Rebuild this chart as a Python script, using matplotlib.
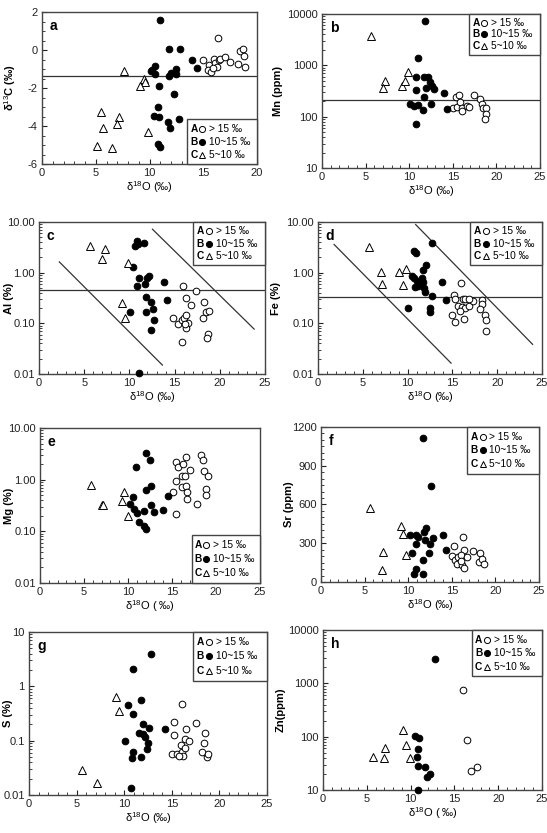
import numpy as np
import matplotlib
matplotlib.use('Agg')
import matplotlib.pyplot as plt
from matplotlib.patches import Rectangle
from matplotlib.ticker import MultipleLocator, FixedLocator, LogLocator, NullFormatter

plt.rcParams['font.family'] = ['Liberation Sans', 'DejaVu Sans']
plt.rcParams['mathtext.fontset'] = 'custom'
plt.rcParams['mathtext.rm'] = 'Liberation Sans'

# ---------------- data ----------------
# panel a : d13C
a_open_x = [16.4, 15.0, 15.5, 15.4, 15.7, 16.0, 16.1, 16.3, 16.5, 16.6, 17.0, 17.5, 18.2, 18.4, 18.7, 18.8, 18.9, 15.9]
a_open_y = [0.63, -0.55, -0.8, -1.05, -1.15, -0.45, -0.7, -0.9, -0.55, -0.45, -0.35, -0.65, -0.75, -0.05, 0.07, -0.3, -0.9, -0.95]
a_fill_x = [11.0, 11.8, 12.8, 13.95, 14.4, 10.1, 10.5, 10.55, 10.2, 11.85, 12.0, 12.45, 12.5, 10.85, 12.25, 10.8, 10.4, 10.85, 11.7, 12.7, 11.9, 10.75, 11.0]
a_fill_y = [1.6, 0.07, 0.05, -0.5, -0.94, -1.12, -0.82, -1.24, -1.03, -1.38, -1.2, -0.98, -1.27, -1.89, -2.34, -2.99, -3.46, -3.52, -3.78, -3.64, -4.1, -4.97, -5.1]
a_tri_x = [7.6, 9.45, 9.6, 9.15, 5.45, 7.15, 7.0, 5.7, 9.85, 5.1, 6.5]
a_tri_y = [-1.12, -1.5, -1.68, -1.9, -3.25, -3.5, -3.9, -4.13, -4.34, -5.04, -5.15]
a_hline = -1.36

# panel b : Mn
b_tri_x = [5.65, 7.25, 7.05, 9.15, 9.55, 9.85]
b_tri_y = [3700, 500, 355, 395, 500, 750]
b_fill_x = [11.85, 11.05, 10.75, 11.7, 12.2, 12.4, 12.6, 12.8, 11.95, 10.75, 14.0, 11.75, 10.05, 10.5, 11.05, 12.5, 11.6, 14.3, 10.75]
b_fill_y = [7400, 1360, 600, 600, 600, 480, 395, 340, 355, 330, 290, 245, 180, 160, 168, 175, 135, 138, 73]
b_open_x = [15.35, 15.7, 15.0, 15.45, 15.8, 16.0, 16.1, 16.6, 16.9, 17.4, 18.1, 18.3, 18.5, 18.8, 18.8, 18.7]
b_open_y = [243, 270, 145, 151, 194, 148, 128, 160, 155, 270, 216, 180, 145, 145, 115, 91]
b_hline = 210

# panel c : Al
c_tri_x = [5.65, 7.25, 7.0, 9.8, 9.15, 9.5]
c_tri_y = [3.36, 2.9, 1.9, 1.56, 0.254, 0.125]
c_fill_x = [10.8, 10.6, 10.9, 11.65, 10.45, 11.1, 11.9, 12.2, 11.7, 10.8, 13.85, 11.8, 12.35, 12.65, 14.2, 10.05, 11.8, 12.7, 12.4, 11.1]
c_fill_y = [4.2, 3.4, 3.7, 3.85, 1.3, 0.77, 0.8, 0.85, 0.61, 0.54, 0.64, 0.33, 0.265, 0.196, 0.295, 0.169, 0.169, 0.116, 0.073, 0.0103]
c_open_x = [15.95, 16.25, 17.4, 16.8, 18.3, 14.85, 15.4, 15.8, 16.05, 16.25, 16.5, 16.3, 16.1, 18.1, 18.5, 18.85, 18.7, 18.6, 15.8]
c_open_y = [0.54, 0.31, 0.44, 0.23, 0.265, 0.125, 0.099, 0.116, 0.125, 0.145, 0.1, 0.082, 0.096, 0.125, 0.169, 0.177, 0.063, 0.052, 0.042]
c_hline = 0.46
c_diag1_x = [2.25, 13.65]
c_diag1_y = [1.63, 0.015]
c_diag2_x = [12.55, 23.8]
c_diag2_y = [7.2, 0.077]

# panel d : Fe
d_tri_x = [5.65, 7.0, 7.15, 9.05, 9.8, 9.45]
d_tri_y = [3.25, 1.05, 0.59, 1.05, 1.17, 0.56]
d_fill_x = [12.75, 10.75, 10.95, 12.05, 11.75, 10.45, 10.7, 11.65, 11.0, 13.8, 11.75, 10.8, 11.2, 11.8, 11.95, 12.7, 14.25, 10.0, 12.45, 12.45]
d_fill_y = [3.77, 2.7, 2.47, 1.42, 1.13, 0.865, 0.78, 0.78, 0.67, 0.65, 0.64, 0.52, 0.55, 0.495, 0.41, 0.34, 0.293, 0.2, 0.2, 0.166]
d_open_x = [15.95, 15.2, 15.3, 16.15, 16.4, 15.65, 16.05, 16.4, 16.8, 17.35, 16.9, 18.35, 18.35, 18.1, 14.95, 16.25, 15.3, 18.65, 18.75, 18.75, 15.85]
d_open_y = [0.62, 0.367, 0.302, 0.302, 0.302, 0.217, 0.21, 0.2, 0.22, 0.272, 0.3, 0.293, 0.245, 0.19, 0.143, 0.124, 0.105, 0.144, 0.116, 0.072, 0.173]
d_hline = 0.33
d_diag1_x = [1.8, 14.85]
d_diag1_y = [3.6, 0.0164]
d_diag2_x = [10.9, 23.95]
d_diag2_y = [8.9, 0.0385]

# panel e : Mg
e_tri_x = [5.75, 7.1, 7.2, 9.6, 9.35, 9.95]
e_tri_y = [0.8, 0.33, 0.32, 0.58, 0.38, 0.195]
e_fill_x = [12.0, 12.45, 10.9, 12.1, 12.6, 10.6, 10.2, 10.7, 11.0, 11.85, 12.6, 12.9, 14.0, 14.5, 11.3, 11.8, 12.1]
e_fill_y = [3.3, 2.4, 1.76, 0.62, 0.76, 0.46, 0.34, 0.27, 0.23, 0.25, 0.33, 0.24, 0.26, 0.48, 0.15, 0.125, 0.11]
e_open_x = [15.5, 15.7, 16.2, 16.55, 17.05, 15.5, 16.1, 16.5, 16.1, 16.55, 15.15, 16.7, 16.75, 17.8, 15.5, 18.3, 18.55, 18.6, 19.1, 18.9, 18.9]
e_open_y = [2.16, 1.74, 2.04, 2.7, 1.56, 0.93, 1.16, 1.2, 0.72, 0.74, 0.59, 0.58, 0.42, 0.34, 0.22, 3.05, 2.44, 1.5, 1.16, 0.66, 0.5]

# panel f : Sr
f_tri_x = [5.65, 9.2, 9.45, 7.15, 9.75, 6.95]
f_tri_y = [570, 433, 368, 233, 207, 96]
f_fill_x = [11.75, 12.6, 10.15, 10.85, 11.15, 12.05, 11.8, 12.9, 14.0, 11.95, 12.5, 10.85, 14.3, 12.4, 10.4, 11.65, 10.85, 10.65, 11.65]
f_fill_y = [1115, 744, 363, 363, 350, 415, 389, 337, 363, 324, 298, 298, 251, 225, 225, 174, 104, 65, 65]
f_open_x = [16.3, 15.3, 16.4, 17.4, 18.2, 15.0, 15.35, 15.75, 16.1, 16.7, 15.65, 16.2, 16.4, 18.1, 18.5, 18.7, 16.0]
f_open_y = [350, 277, 246, 241, 225, 200, 174, 194, 207, 194, 143, 130, 109, 155, 181, 143, 163]

# panel g : S
g_tri_x = [9.15, 9.45, 5.6, 7.15]
g_tri_y = [0.64, 0.35, 0.0288, 0.0164]
g_fill_x = [12.8, 10.95, 11.75, 10.45, 10.9, 12.0, 12.65, 14.3, 11.6, 11.95, 12.2, 12.45, 12.35, 10.1, 10.95, 10.8, 11.75, 10.7]
g_fill_y = [4.0, 2.06, 0.556, 0.45, 0.316, 0.199, 0.168, 0.163, 0.141, 0.132, 0.118, 0.089, 0.07, 0.1, 0.061, 0.048, 0.05, 0.0132]
g_open_x = [16.05, 15.25, 17.5, 15.25, 16.45, 18.45, 16.35, 16.85, 16.0, 18.35, 15.0, 15.5, 16.05, 16.4, 16.2, 18.15, 18.7, 18.85, 15.75]
g_open_y = [0.48, 0.222, 0.213, 0.126, 0.163, 0.141, 0.107, 0.1, 0.085, 0.089, 0.058, 0.056, 0.061, 0.072, 0.052, 0.063, 0.0506, 0.056, 0.052]

# panel h : Zn
h_tri_x = [9.15, 9.5, 7.1, 5.7, 6.95, 9.95]
h_tri_y = [131, 70, 61, 41, 39, 40]
h_fill_x = [12.75, 10.45, 11.0, 10.85, 10.75, 10.85, 11.7, 12.25, 11.85, 10.9]
h_fill_y = [2800, 102, 95, 59, 41, 28, 26.7, 20, 17.3, 10.1]
h_open_x = [16.0, 16.45, 16.95, 17.6]
h_open_y = [764, 87, 22.4, 26.7]

legend_rows = [('A', 'o', 'white', '> 15 ‰'),
               ('B', 'o', 'black', '10~15 ‰'),
               ('C', '^', 'white', '5~10 ‰')]

FRAME = '#444444'
W, H = 547.0, 833.0

fig = plt.figure(figsize=(W / 100, H / 100), dpi=100)


def make_ax(px_left, px_top, px_right, px_bottom):
    ax = fig.add_axes([px_left / W, 1 - px_bottom / H, (px_right - px_left) / W, (px_bottom - px_top) / H])
    ax._px = (px_left, px_right)
    return ax


def style(ax, letter, ylabel, xmax, ylab_px, xlabel='δ$^{18}$O (‰)'):
    for s in ax.spines.values():
        s.set_color(FRAME)
        s.set_linewidth(1.0)
    ax.set_xlim(0, xmax)
    ax.xaxis.set_major_locator(MultipleLocator(5))
    ax.xaxis.set_minor_locator(MultipleLocator(1))
    ax.tick_params(which='both', direction='in', top=False, right=False, labelsize=8,
                   colors='#222222', pad=3)
    ax.tick_params(which='major', length=3.5, width=0.8)
    ax.tick_params(which='minor', length=2, width=0.6)
    ax.text(0.035, 0.955, letter, transform=ax.transAxes, fontsize=10, fontweight='bold',
            va='top', ha='left')
    ax.set_ylabel(ylabel, fontsize=8, fontweight='bold', va='center')
    l, r = ax._px
    ax.yaxis.set_label_coords((ylab_px - l) / (r - l), 0.5)
    ax.set_xlabel(xlabel, fontsize=8, labelpad=1)


def draw_legend(ax, x0, y0, w, h):
    ax.add_patch(Rectangle((x0, y0), w, h, transform=ax.transAxes, facecolor='white',
                           edgecolor=FRAME, linewidth=1.0, zorder=5, clip_on=False))
    for i, (let, mk, fc, lab) in enumerate(legend_rows):
        yy = y0 + h * (0.79 - 0.29 * i)
        ax.text(x0 + w * 0.045, yy, let, transform=ax.transAxes, fontsize=7.3, fontweight='bold',
                va='center', ha='left', zorder=6)
        ax.plot([x0 + w * 0.215], [yy], marker=mk, markersize=4.4 if mk == 'o' else 5.0,
                markerfacecolor=fc, markeredgecolor='black', markeredgewidth=0.7,
                transform=ax.transAxes, zorder=6, clip_on=False, linestyle='none')
        ax.text(x0 + w * 0.31, yy, lab, transform=ax.transAxes, fontsize=7.3,
                va='center', ha='left', zorder=6)


def scatter3(ax, ox, oy, fx, fy, tx, ty):
    ax.plot(ox, oy, 'o', markersize=4.8, markerfacecolor='white', markeredgecolor='black',
            markeredgewidth=0.7, zorder=3, clip_on=False, linestyle='none')
    ax.plot(fx, fy, 'o', markersize=4.8, markerfacecolor='black', markeredgecolor='black',
            markeredgewidth=0.7, zorder=3, clip_on=False, linestyle='none')
    ax.plot(tx, ty, '^', markersize=5.4, markerfacecolor='white', markeredgecolor='black',
            markeredgewidth=0.7, zorder=3, clip_on=False, linestyle='none')


def log_axis(ax, lo, hi, fmt):
    ax.set_yscale('log')
    ax.set_ylim(lo, hi)
    majors = [lo * 10 ** k for k in range(int(round(np.log10(hi / lo))) + 1)]
    ax.yaxis.set_major_locator(FixedLocator(majors))
    ax.yaxis.set_major_formatter(plt.FuncFormatter(lambda v, p: fmt(v)))
    ax.yaxis.set_minor_locator(LogLocator(base=10, subs=range(2, 10)))
    ax.yaxis.set_minor_formatter(NullFormatter())


LINE = dict(color='#333333', lw=0.9, zorder=2)

# ---- a ----
ax = make_ax(42, 12, 257, 164)
scatter3(ax, a_open_x, a_open_y, a_fill_x, a_fill_y, a_tri_x, a_tri_y)
ax.axhline(a_hline, **LINE)
ax.set_ylim(-6, 2)
ax.yaxis.set_major_locator(MultipleLocator(2))
ax.yaxis.set_minor_locator(MultipleLocator(0.5))
ax.yaxis.set_major_formatter(plt.FuncFormatter(lambda v, p: '%d' % v))
style(ax, 'a', 'δ$^{13}$C (‰)', 20, 10)
draw_legend(ax, 0.675, 0.0, 0.325, 0.295)

# ---- b ----
ax = make_ax(322, 14, 540, 168)
scatter3(ax, b_open_x, b_open_y, b_fill_x, b_fill_y, b_tri_x, b_tri_y)
ax.axhline(b_hline, **LINE)
log_axis(ax, 10, 10000, lambda v: '%d' % v)
style(ax, 'b', 'Mn (ppm)', 25, 278)
draw_legend(ax, 0.675, 0.735, 0.325, 0.265)

# ---- c ----
ax = make_ax(39, 222, 265, 374)
scatter3(ax, c_open_x, c_open_y, c_fill_x, c_fill_y, c_tri_x, c_tri_y)
ax.axhline(c_hline, **LINE)
ax.plot(c_diag1_x, c_diag1_y, **LINE)
ax.plot(c_diag2_x, c_diag2_y, **LINE)
log_axis(ax, 0.01, 10, lambda v: '%.2f' % v)
style(ax, 'c', 'Al (%)', 25, 9)
draw_legend(ax, 0.683, 0.715, 0.317, 0.285)

# ---- d ----
ax = make_ax(318, 222, 542, 374)
scatter3(ax, d_open_x, d_open_y, d_fill_x, d_fill_y, d_tri_x, d_tri_y)
ax.axhline(d_hline, **LINE)
ax.plot(d_diag1_x, d_diag1_y, **LINE)
ax.plot(d_diag2_x, d_diag2_y, **LINE)
log_axis(ax, 0.01, 10, lambda v: '%.2f' % v)
style(ax, 'd', 'Fe (%)', 25, 276)
draw_legend(ax, 0.68, 0.715, 0.32, 0.285)

# ---- e ----
ax = make_ax(40, 428, 260, 583)
scatter3(ax, e_open_x, e_open_y, e_fill_x, e_fill_y, e_tri_x, e_tri_y)
log_axis(ax, 0.01, 10, lambda v: '%.2f' % v)
style(ax, 'e', 'Mg (%)', 25, 9, 'δ$^{18}$O ( ‰)')
draw_legend(ax, 0.69, 0.0, 0.31, 0.31)

# ---- f ----
ax = make_ax(321, 427, 539, 582)
scatter3(ax, f_open_x, f_open_y, f_fill_x, f_fill_y, f_tri_x, f_tri_y)
ax.set_ylim(0, 1200)
ax.yaxis.set_major_locator(MultipleLocator(300))
ax.yaxis.set_minor_locator(MultipleLocator(50))
style(ax, 'f', 'Sr (ppm)', 25, 289)
draw_legend(ax, 0.67, 0.70, 0.33, 0.30)

# ---- g ----
ax = make_ax(29, 632, 267, 795)
scatter3(ax, g_open_x, g_open_y, g_fill_x, g_fill_y, g_tri_x, g_tri_y)
log_axis(ax, 0.01, 10, lambda v: ('%g' % v))
style(ax, 'g', 'S (%)', 25, 8)
draw_legend(ax, 0.69, 0.70, 0.31, 0.30)

# ---- h ----
ax = make_ax(323, 630, 542, 790)
scatter3(ax, h_open_x, h_open_y, h_fill_x, h_fill_y, h_tri_x, h_tri_y)
log_axis(ax, 10, 10000, lambda v: '%d' % v)
style(ax, 'h', 'Zn(ppm)', 25, 281, 'δ$^{18}$O ( ‰)')
draw_legend(ax, 0.68, 0.71, 0.32, 0.29)

fig.savefig('out.png', dpi=100, facecolor='white')
